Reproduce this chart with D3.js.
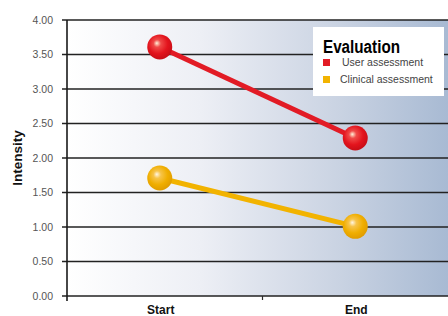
<!DOCTYPE html>
<html>
<head>
<meta charset="utf-8">
<script src="https://cdn.jsdelivr.net/npm/d3@7"></script>
<style>
  body { margin: 0; background: #fff; }
  svg { display: block; font-family: "Liberation Sans", Arial, sans-serif; }
</style>
</head>
<body>
<div id="chart"></div>
<script>
// chart values
var categories = ['Start', 'End'];
var seriesNames = ['User assessment', 'Clinical assessment'];
var userValues = [3.61, 2.29];
var clinicalValues = [1.71, 1.01];
var yTicks = [0, 0.5, 1, 1.5, 2, 2.5, 3, 3.5, 4];

var width = 448, height = 316;
var margin = { top: 20, right: -10, bottom: 20, left: 67 };

var svg = d3.select('#chart').append('svg')
  .attr('width', width)
  .attr('height', height);

var defs = svg.append('defs');

// background gradient of the plot area
var bg = defs.append('linearGradient').attr('id', 'bgGrad')
  .attr('x1', '0%').attr('x2', '100%').attr('y1', '0%').attr('y2', '0%');
bg.append('stop').attr('offset', '0%').attr('stop-color', '#ffffff');
bg.append('stop').attr('offset', '35%').attr('stop-color', '#edeff5');
bg.append('stop').attr('offset', '70%').attr('stop-color', '#cbd4e3');
bg.append('stop').attr('offset', '100%').attr('stop-color', '#a8bad3');

// glossy balls
var ballColors = [
  { id: 'redBall', light: '#fff2d8', mid: '#f04a48', base: '#e3141d', dark: '#c80d16' },
  { id: 'yellowBall', light: '#fff6e4', mid: '#f7c44a', base: '#f0ae00', dark: '#e09c00' }
];
ballColors.forEach(function(c) {
  var g = defs.append('radialGradient').attr('id', c.id)
    .attr('cx', '45%').attr('cy', '40%').attr('r', '60%')
    .attr('fx', '38%').attr('fy', '35%');
  g.append('stop').attr('offset', '0%').attr('stop-color', c.light);
  g.append('stop').attr('offset', '25%').attr('stop-color', c.mid);
  g.append('stop').attr('offset', '65%').attr('stop-color', c.base);
  g.append('stop').attr('offset', '100%').attr('stop-color', c.dark);
});

var x = d3.scaleBand()
  .domain(categories)
  .range([margin.left, width - margin.right])
  .paddingInner(0).paddingOuter(0);

var y = d3.scaleLinear()
  .domain([0, 4])
  .range([height - margin.bottom, margin.top]);

svg.append('rect')
  .attr('x', margin.left)
  .attr('y', y(4))
  .attr('width', width - margin.left)
  .attr('height', y(0) - y(4))
  .attr('fill', 'url(#bgGrad)');

// gridlines
svg.append('g').selectAll('line')
  .data(yTicks)
  .enter().append('line')
  .attr('x1', margin.left - 5)
  .attr('x2', width)
  .attr('y1', function(d) { return y(d); })
  .attr('y2', function(d) { return y(d); })
  .attr('stroke', '#222')
  .attr('stroke-width', 1.5);

// y axis
var yAxis = svg.append('g')
  .attr('transform', 'translate(' + margin.left + ',0)')
  .call(d3.axisLeft(y).tickValues(yTicks).tickFormat(d3.format('.2f')).tickSize(0).tickPadding(14));
yAxis.select('.domain').remove();
yAxis.selectAll('text')
  .attr('font-size', 10.5)
  .attr('fill', '#555')
  .attr('font-family', '"Liberation Sans", Arial, sans-serif');

svg.append('line')
  .attr('x1', margin.left).attr('x2', margin.left)
  .attr('y1', y(4)).attr('y2', y(0) + 5)
  .attr('stroke', '#1a1a1a').attr('stroke-width', 1.6);

// x axis middle tick
svg.append('line')
  .attr('x1', x('End')).attr('x2', x('End'))
  .attr('y1', y(0)).attr('y2', y(0) + 4)
  .attr('stroke', '#2b2b2b').attr('stroke-width', 1.2);

svg.append('g').selectAll('text')
  .data(categories)
  .enter().append('text')
  .attr('x', function(d) { return x(d) + x.bandwidth() / 2 - 4; })
  .attr('y', 314)
  .attr('text-anchor', 'middle')
  .attr('font-size', 12)
  .attr('font-weight', 'bold')
  .attr('fill', '#111')
  .text(function(d) { return d; });

svg.append('text')
  .attr('transform', 'translate(22,' + ((y(0) + y(4)) / 2) + ') rotate(-90)')
  .attr('text-anchor', 'middle')
  .attr('font-size', 13.5)
  .attr('font-weight', 'bold')
  .attr('fill', '#111')
  .text('Intensity');

// series
var series = [
  { name: seriesNames[0], values: userValues, line: '#e21b25', ball: 'url(#redBall)' },
  { name: seriesNames[1], values: clinicalValues, line: '#f2b300', ball: 'url(#yellowBall)' }
];

var cx = function(i) { return x(categories[i]) + x.bandwidth() / 2 - 5; };

var lineGen = d3.line()
  .x(function(d, i) { return cx(i); })
  .y(function(d) { return y(d); });

series.forEach(function(s) {
  svg.append('path')
    .datum(s.values)
    .attr('d', lineGen)
    .attr('fill', 'none')
    .attr('stroke', s.line)
    .attr('stroke-width', 5);
});

series.forEach(function(s) {
  svg.append('g').selectAll('circle')
    .data(s.values)
    .enter().append('circle')
    .attr('cx', function(d, i) { return cx(i); })
    .attr('cy', function(d) { return y(d); })
    .attr('r', 12.5)
    .attr('fill', s.ball);
});

// legend
var legend = svg.append('g').attr('transform', 'translate(313,27)');
legend.append('rect')
  .attr('width', 131).attr('height', 69)
  .attr('fill', '#fff');
legend.append('text')
  .attr('x', 10).attr('y', 26)
  .attr('font-weight', 'bold')
  .attr('font-size', 18)
  .attr('textLength', 77)
  .attr('lengthAdjust', 'spacingAndGlyphs')
  .attr('fill', '#000')
  .text('Evaluation');
var items = legend.selectAll('.item')
  .data(series)
  .enter().append('g')
  .attr('transform', function(d, i) { return 'translate(10,' + (32 + i * 17) + ')'; });
items.append('rect')
  .attr('width', 7).attr('height', 7)
  .attr('fill', function(d) { return d.line; });
items.append('text')
  .attr('x', function(d, i) { return i === 0 ? 19 : 17; })
  .attr('y', 7)
  .attr('font-size', 10.5)
  .attr('fill', '#444')
  .text(function(d) { return d.name; });
</script>
</body>
</html>
